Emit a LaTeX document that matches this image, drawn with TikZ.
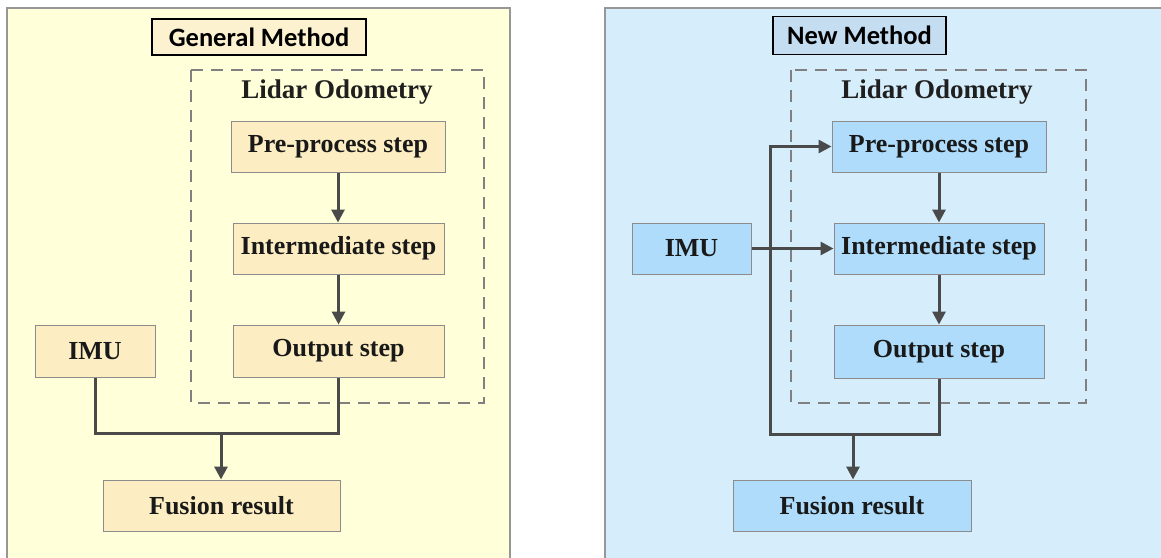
\documentclass[tikz,border=0pt]{standalone}
\usepackage{fontspec}
\setmainfont{Liberation Serif}
\newfontfamily\titlefont{Carlito}
\usetikzlibrary{arrows.meta}
\definecolor{ybg}{HTML}{FFFFD9}
\definecolor{ybox}{HTML}{FCEEC2}
\definecolor{ytitle}{HTML}{FDF2D0}
\definecolor{bbg}{HTML}{D6EEFC}
\definecolor{bbox}{HTML}{AEDCFA}
\definecolor{btitle}{HTML}{C4DDF1}
\definecolor{lineg}{HTML}{4A4A4A}
\definecolor{edgeg}{HTML}{8C8C8C}
\begin{document}
\begin{tikzpicture}[x=1pt,y=-1pt,
  panel/.style={draw=edgeg!90, line width=1.5pt},
  stepbox/.style={draw=edgeg, line width=1pt, inner sep=0pt, text=black!90, font=\fontsize{26}{29}\selectfont\bfseries},
  titlebox/.style={draw=black, line width=1.5pt, inner sep=0pt, font=\titlefont\fontsize{26.5}{30}\selectfont\bfseries},
  grouplabel/.style={font=\fontsize{27}{30}\selectfont\bfseries, text=black!88},
  flow/.style={draw=lineg, line width=3pt},
  arr/.style={flow, -{Triangle[length=13pt,width=13pt]}},
  groupbox/.style={draw=gray, dash pattern=on 12pt off 8pt, line width=1.2pt}]
\useasboundingbox (0,0) rectangle (1161,557);
\fill[white] (0,0) rectangle (1161,557);
% panels
\path[panel, fill=ybg] (7,8) rectangle (510,575);
\path[panel, fill=bbg] (605,8) rectangle (1175,575);

% ===== General method =====
\node[titlebox, fill=ytitle, minimum width=214pt, minimum height=36pt] (gtitle) at (259,37) {General Method};
\draw[groupbox] (191,70) rectangle (484,403);
\node[grouplabel] (glabel) at (337,92) {Lidar Odometry};
\node[stepbox, fill=ybox, minimum width=214pt, minimum height=51pt] (gpre) at (338,146.5) {Pre-process step};
\node[stepbox, fill=ybox, minimum width=211pt, minimum height=51pt] (ginter) at (338.5,248.5) {Intermediate step};
\node[stepbox, fill=ybox, minimum width=211pt, minimum height=52pt] (gout) at (338.5,351) {Output step};
\node[stepbox, fill=ybox, minimum width=120pt, minimum height=52pt] (gimu) at (95,351) {IMU};
\node[stepbox, fill=ybox, minimum width=237pt, minimum height=51pt] (gfus) at (221.5,505.5) {Fusion result};
\coordinate (gj) at (221,433);
\draw[arr] (gpre.south) -- (gpre.south |- ginter.north);
\draw[arr] (ginter.south) -- (ginter.south |- gout.north);
\draw[flow] (gimu.south) |- (gj) -| (gout.south);
\draw[arr] (gj) -- (gj |- gfus.north);

% ===== New method =====
\node[titlebox, fill=btitle, minimum width=173pt, minimum height=38pt] (btitle) at (859.5,35.5) {New Method};
\draw[groupbox] (791,70) rectangle (1086,403);
\node[grouplabel] (blabel) at (937,92) {Lidar Odometry};
\node[stepbox, fill=bbox, minimum width=214pt, minimum height=51pt] (bpre) at (939,146.5) {Pre-process step};
\node[stepbox, fill=bbox, minimum width=210pt, minimum height=51pt] (binter) at (939,248.5) {Intermediate step};
\node[stepbox, fill=bbox, minimum width=210pt, minimum height=53pt] (bout) at (939,351.5) {Output step};
\node[stepbox, fill=bbox, minimum width=119pt, minimum height=51pt] (bimu) at (691.5,248.5) {IMU};
\node[stepbox, fill=bbox, minimum width=238pt, minimum height=51pt] (bfus) at (852,505.5) {Fusion result};
\coordinate (bcorner) at (770,434);
\coordinate (bj) at (853,434);
\draw[arr] (bpre.south) -- (bpre.south |- binter.north);
\draw[arr] (binter.south) -- (binter.south |- bout.north);
\draw[arr] (bout.south) |- (bcorner) |- (bpre.west);
\draw[arr] (bimu.east) -- (binter.west);
\draw[arr] (bj) -- (bj |- bfus.north);
\end{tikzpicture}
\end{document}
